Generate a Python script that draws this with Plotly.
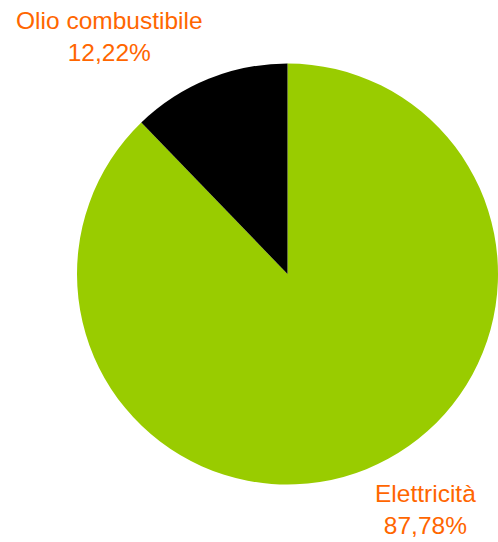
import plotly.graph_objects as go

labels = ["Elettricità", "Olio combustibile"]
values = [87.78, 12.22]
colors = ["#99CC00", "#000000"]
label_text = ["Elettricità<br>87,78%", "Olio combustibile<br>12,22%"]

W, H = 498, 542

fig = go.Figure()
fig.add_trace(go.Pie(labels=labels, values=values, sort=False, direction="clockwise", rotation=0,
                     marker=dict(colors=colors, line=dict(width=0)), textinfo="none", hoverinfo="label+percent",
                     showlegend=False, domain=dict(x=[77 / W, 498 / W], y=[1 - 484.5 / H, 1 - 63.5 / H])))

# labels sit outside the pie, like the original
lab_font = dict(size=24.5, color="#FF6600", family="Liberation Sans, Arial")
fig.add_annotation(x=109 / W, y=1 - 37 / H, xref="paper", yref="paper", text=label_text[1], showarrow=False,
                   xanchor="center", yanchor="middle", font=lab_font, align="center", borderpad=0)
fig.add_annotation(x=425 / W, y=1 - 509 / H, xref="paper", yref="paper", text=label_text[0], showarrow=False,
                   xanchor="center", yanchor="middle", font=lab_font, align="center", borderpad=0)

fig.update_layout(width=W, height=H, margin=dict(l=0, r=0, t=0, b=0),
                  paper_bgcolor="white", plot_bgcolor="white")
# drop the default body margin so the figure fills the window exactly
fig.write_html("out.html", config=dict(displayModeBar=False),
               post_script="document.body.style.margin='0';document.body.style.overflow='hidden';")
